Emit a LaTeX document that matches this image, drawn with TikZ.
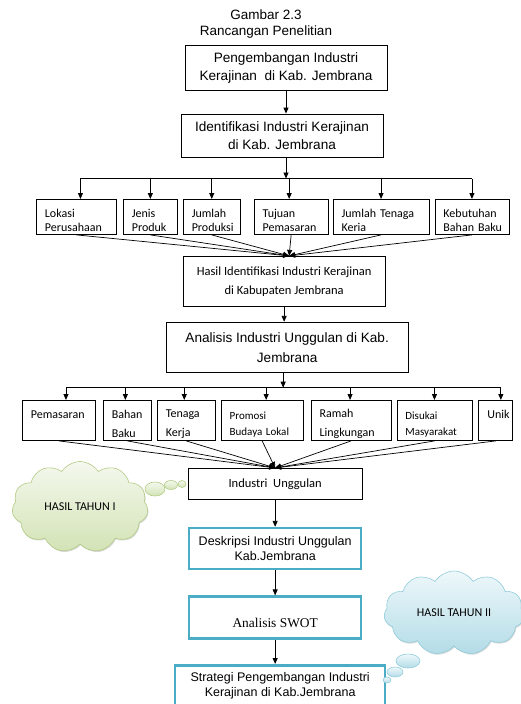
\documentclass[tikz,border=0pt]{standalone}
\usepackage{fontspec}
\setmainfont{Liberation Sans}
\newfontfamily\carlito{Carlito}
\newfontfamily\timesfont{Liberation Serif}
\usepackage{tikz}
\usetikzlibrary{positioning,arrows.meta,shapes.symbols,shadows}
\hyphenpenalty=10000

\definecolor{birubingkai}{HTML}{4BACC6}
\definecolor{hijauatas}{HTML}{F4F8EE}
\definecolor{hijaubawah}{HTML}{D3E3B5}
\definecolor{hijaugaris}{HTML}{B3CB85}
\definecolor{biruatas}{HTML}{EEF8FA}
\definecolor{birubawah}{HTML}{B3DCE7}
\definecolor{birugaris}{HTML}{92CDDC}

\tikzset{
  kotak/.style={draw, line width=0.9pt, align=center, inner sep=0pt},
  kotakbiru/.style={kotak, draw=birubingkai, line width=2.6pt},
  arial/.style={font=\fontsize{13.6}{17.5}\selectfont},
  kecil/.style={draw, line width=0.9pt, align=left, inner xsep=8.5pt, inner ysep=0pt,
    text width=#1, font=\carlito\fontsize{12}{14.7}\selectfont,
    execute at begin node={\rule{0pt}{15pt}}},
  baris1/.style={kecil=#1, minimum height=35pt},
  baris2/.style={kecil=#1, minimum height=40pt, font=\carlito\fontsize{12}{18.3}\selectfont},
  awan/.style={cloud, cloud puffs=11, cloud puff arc=115, aspect=1.55, inner sep=0pt,
    font=\carlito\fontsize{12}{14}\selectfont,
    drop shadow={shadow xshift=0.8pt, shadow yshift=-1.2pt, opacity=0.3}},
}

\begin{document}
\begin{tikzpicture}[x=1pt, y=1pt, >={Triangle[length=6pt, width=5pt]}]
  \useasboundingbox (0,0) rectangle (521,-704);

  % nodes
  \node[align=center, font=\fontsize{13.5}{15.7}\selectfont] (judul) at (266,-24)
    {Gambar 2.3\\Rancangan Penelitian};
  \node[kotak, arial, minimum width=202pt, minimum height=45.7pt] (p1) at (286,-68)
    {Pengembangan Industri\\Kerajinan\ \ di Kab. Jembrana};
  \node[kotak, arial, minimum width=202pt, minimum height=43pt, below=22.3pt of p1, xshift=-4pt] (p2)
    {Identifikasi Industri Kerajinan\\di Kab. Jembrana};

  \node[baris1=63pt, anchor=north west] (lokasi) at (36,-199) {Lokasi\\Perusahaan};
  \node[baris1=37pt, right=6pt of lokasi] (jenis) {Jenis\\Produk};
  \node[baris1=40pt, right=5pt of jenis] (produksi) {Jumlah\\Produksi};
  \node[baris1=57pt, right=13pt of produksi] (tujuan) {Tujuan\\Pemasaran};
  \node[baris1=79pt, right=4pt of tujuan] (tenaga) {\mbox{Jumlah Tenaga}\\Keria};
  \node[baris1=57pt, right=5pt of tenaga] (kebutuhan) {Kebutuhan\\\mbox{Bahan Baku}};

  \node[kotak, font=\carlito\fontsize{12.5}{19}\selectfont, minimum width=202pt, minimum height=50pt,
    below=21pt of tujuan, xshift=-7pt] (p3)
    {Hasil Identifikasi Industri Kerajinan\\di Kabupaten Jembrana};
  \node[kotak, font=\fontsize{13.6}{20}\selectfont, minimum width=242pt, minimum height=50pt,
    below=15pt of p3, xshift=3pt] (p4)
    {Analisis Industri Unggulan di Kab.\\Jembrana};

  \node[baris2=56pt, anchor=north west] (pemasaran) at (22,-400) {Pemasaran\\\mbox{}};
  \node[baris2=31pt, right=7pt of pemasaran] (bahan) {Bahan\\Baku};
  \node[baris2=41pt, right=5pt of bahan] (tenagakerja) {Tenaga\\Kerja};
  \node[baris2=65pt, right=5pt of tenagakerja, font=\carlito\fontsize{11}{16}\selectfont] (promosi)
    {Promosi\\\mbox{Budaya Lokal}};
  \node[baris2=63pt, right=7pt of promosi] (ramah) {Ramah\\Lingkungan};
  \node[baris2=58pt, right=5pt of ramah, font=\carlito\fontsize{11}{16}\selectfont] (disukai)
    {Disukai\\Masyarakat};
  \node[baris2=17pt, right=6pt of disukai] (unik) {Unik\\\mbox{}};

  \node[kotak, font=\carlito\fontsize{12.5}{15}\selectfont, minimum width=174pt, minimum height=31pt,
    below=27pt of promosi, xshift=13pt] (p5) {Industri\ \ Unggulan};
  \node[kotakbiru, font=\fontsize{12.5}{15.3}\selectfont, minimum width=172pt, minimum height=41pt,
    below=27pt of p5] (p6) {Deskripsi Industri Unggulan\\Kab.Jembrana};
  \node[kotakbiru, font=\timesfont\fontsize{13.4}{19}\selectfont, minimum width=172pt, minimum height=42pt,
    below=25pt of p6] (p7) {\mbox{}\\Analisis SWOT};
  \node[kotakbiru, font=\fontsize{12.5}{15}\selectfont, minimum width=210pt, minimum height=40pt,
    below=24pt of p7, xshift=5pt] (p8) {Strategi Pengembangan Industri\\Kerajinan di Kab.Jembrana};

  % clouds
  \shade[top color=hijauatas, bottom color=hijaubawah, draw=hijaugaris, line width=0.6pt]
    (155,-489) ellipse (10 and 7);
  \shade[top color=hijauatas, bottom color=hijaubawah, draw=hijaugaris, line width=0.6pt]
    (171,-485) ellipse (6.5 and 4.5);
  \shade[top color=hijauatas, bottom color=hijaubawah, draw=hijaugaris, line width=0.6pt]
    (182,-484) ellipse (4 and 3.5);
  \node[awan, top color=hijauatas, bottom color=hijaubawah, draw=hijaugaris, line width=0.6pt,
    minimum width=136pt, minimum height=91pt] (tahun1) at (80,-507) {HASIL TAHUN I};

  \shade[top color=biruatas, bottom color=birubawah, draw=birugaris, line width=0.6pt]
    (408,-661) ellipse (12 and 7);
  \shade[top color=biruatas, bottom color=birubawah, draw=birugaris, line width=0.6pt]
    (395,-672) ellipse (8 and 5);
  \shade[top color=biruatas, bottom color=birubawah, draw=birugaris, line width=0.6pt]
    (387,-680) ellipse (4 and 3);
  \node[awan, top color=biruatas, bottom color=birubawah, draw=birugaris, line width=0.6pt,
    minimum width=140pt, minimum height=84pt] (tahun2) at (454,-613) {HASIL TAHUN II};

  % edges
  \draw[->, line width=0.9pt] (p1.south) -- (p1.south |- p2.north);
  \coordinate (bus1) at ([yshift=-21pt]p1.south |- p2.south);
  \draw[->, line width=0.9pt] (p2.south -| bus1) -- (bus1);
  \draw[line width=0.9pt] ([xshift=4pt]lokasi.north |- bus1) -- (kebutuhan.north |- bus1);
  \foreach \n/\dx in {lokasi/4, jenis/0, produksi/0, tujuan/-2, tenaga/0, kebutuhan/0}
    \draw[->, line width=0.9pt] ([xshift=\dx pt]\n.north |- bus1) -- ([xshift=\dx pt]\n.north);
  \foreach \n in {lokasi, jenis, produksi, tujuan, tenaga, kebutuhan}
    \draw[->, line width=0.7pt] (\n.south) -- ([xshift=-2pt]tujuan.south |- p3.north);

  \draw[->, line width=0.9pt] (p3.south) -- (p3.south |- p4.north);
  \coordinate (bus2) at ([xshift=-4pt, yshift=-15pt]p4.south);
  \draw[->, line width=0.9pt] (p4.south -| bus2) -- (bus2);
  \draw[line width=0.9pt] ([xshift=7pt]pemasaran.north |- bus2) -- ([xshift=5pt]unik.north |- bus2);
  \foreach \n/\dx in {pemasaran/7, bahan/-2, tenagakerja/-2, promosi/4, ramah/-1, disukai/0, unik/5}
    \draw[->, line width=0.9pt] ([xshift=\dx pt]\n.north |- bus2) -- ([xshift=\dx pt]\n.north);
  \foreach \n in {pemasaran, bahan, tenagakerja, promosi, ramah, disukai, unik}
    \draw[->, line width=0.7pt] (\n.south) -- (p5.north);

  \draw[->, line width=0.9pt] (p5.south) -- (p6.north);
  \draw[->, line width=0.9pt] (p6.south) -- (p7.north);
  \draw[->, line width=0.9pt] (p7.south) -- (p7.south |- p8.north);
\end{tikzpicture}
\end{document}
